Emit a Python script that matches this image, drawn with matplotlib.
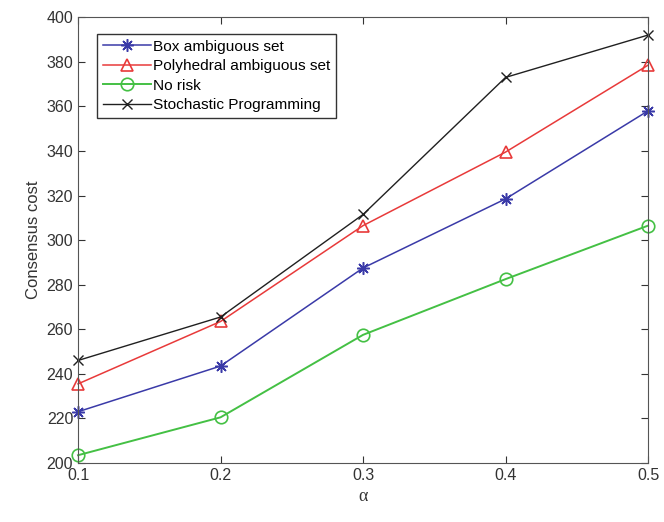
import matplotlib
matplotlib.use("Agg")
import matplotlib.pyplot as plt

plt.rcParams['font.family'] = ['Liberation Sans', 'DejaVu Sans']

alpha = [0.1, 0.2, 0.3, 0.4, 0.5]
box_set = [223, 243.5, 287.5, 318.5, 358]
poly_set = [235.5, 263.5, 306.5, 339.5, 378.5]
no_risk = [203.5, 220.5, 257.5, 282.5, 306.5]
stoch = [246, 265.5, 311.5, 373, 392]

fig = plt.figure(figsize=(6.64, 5.22), dpi=100)
ax = fig.add_axes([0.1175, 0.113, 0.8585, 0.854])

ax.plot(alpha, box_set, color='#3a3aa8', marker=(8, 2, 0), markersize=9, mew=1.1, lw=1.1,
        label='Box ambiguous set', clip_on=False)
ax.plot(alpha, poly_set, color='#e83a3a', marker='^', markersize=9, mfc='none', mew=1.2, lw=1.1,
        label='Polyhedral ambiguous set', clip_on=False)
ax.plot(alpha, no_risk, color='#44c044', marker='o', markersize=9, mfc='none', mew=1.2, lw=1.4,
        label='No risk', clip_on=False)
ax.plot(alpha, stoch, color='#202020', marker='x', markersize=7, lw=1.0,
        label='Stochastic Programming', clip_on=False)

ax.set_xlim(0.1, 0.5)
ax.set_ylim(200, 400)
ax.set_xticks(alpha)
ax.set_xticklabels(['0.1', '0.2', '0.3', '0.4', '0.5'])
ax.set_yticks(range(200, 401, 20))
ax.tick_params(direction='in', length=5, labelsize=11.5, colors='#333333', top=True, right=True)
for s in ax.spines.values():
    s.set_color('#555555')
ax.set_xlabel('\u03b1', fontsize=13, color='#333333', family='Liberation Serif')
ax.set_ylabel('Consensus cost', fontsize=12, color='#333333')

leg = ax.legend(loc='upper left', bbox_to_anchor=(0.02, 0.98), fontsize=11.1, handlelength=3.1,
                borderpad=0.38, labelspacing=0.36, handletextpad=0.15, fancybox=False, framealpha=1)
leg.get_frame().set_edgecolor('#333333')
leg.get_frame().set_linewidth(1.0)

fig.savefig('out.png', dpi=100)
